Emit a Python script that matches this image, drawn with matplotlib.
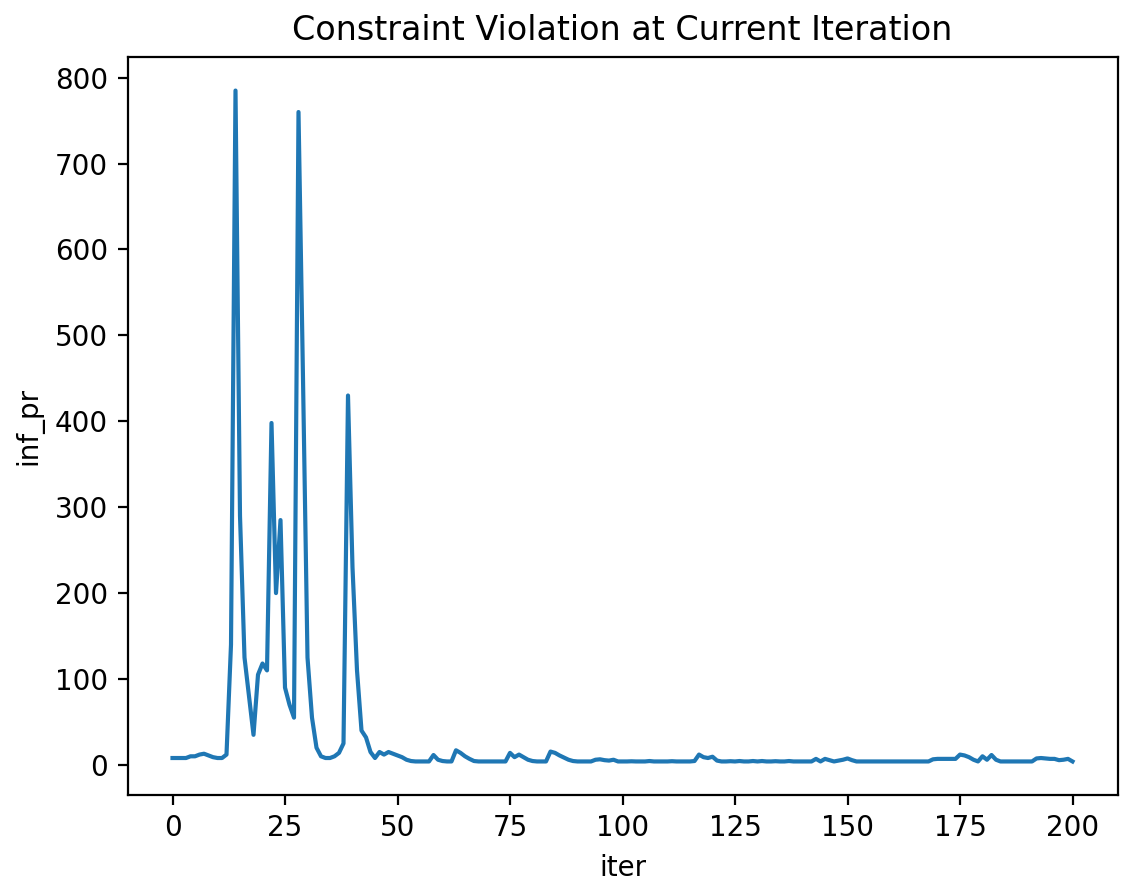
import matplotlib
matplotlib.use("Agg")
import matplotlib.pyplot as plt

# inf_pr per iteration
head = [8, 8, 8, 8, 10, 10, 12, 13, 11, 9, 8, 8, 12,
        140, 785, 290, 125, 80, 35, 105, 118, 110, 398, 200, 285, 90, 70, 55,
        760, 450, 125, 55, 20, 10, 8, 8, 10, 14, 25, 430, 230, 110, 40, 32, 15, 8,
        15, 12, 15, 13, 11, 9, 6, 4.5, 4, 4, 4, 4]
mid = [11.5, 6, 4.5, 4, 4, 17, 14, 10, 7, 4.5, 4, 4, 4, 4, 4, 4, 4,
       14, 9, 12, 9, 6, 4.5, 4, 4, 4, 15.5, 14, 11, 8.5, 6, 4.5, 4, 4, 4, 4,
       6, 6.5, 5.5, 5, 6, 4,
       4, 4, 4.2, 4, 4, 4, 4.5, 4, 4, 4, 4, 4.3, 4, 4, 4, 4, 4.5,
       12, 9, 8, 9.5, 5]
tail = [4, 4, 4.3, 4, 4.5, 4, 4, 4.5, 4, 4.5, 4, 4, 4.3, 4, 4, 4.5, 4, 4, 4, 4, 4,
        7, 4, 7, 5.5, 4, 5, 6, 7.5, 5.5, 4,
        4, 4, 4, 4, 4, 4, 4, 4, 4, 4, 4, 4, 4, 4, 4, 4,
        6.5, 7, 7, 7, 7, 7, 12, 11, 9, 6, 4, 10, 6, 11.5, 6, 4,
        4, 4, 4, 4, 4, 4, 4, 7.5, 8, 7.5, 7, 7, 5.5, 6, 7, 4]
inf_pr = head + mid + tail
iters = list(range(len(inf_pr)))

fig = plt.figure(figsize=(11.32 / 2, 8.92 / 2), dpi=200)
ax = fig.add_axes([127.5 / 1132, 97 / 892, 990 / 1132, 738 / 892])
ax.plot(iters, inf_pr)
ax.set_title("Constraint Violation at Current Iteration")
ax.set_xlabel("iter")
ax.set_ylabel("inf_pr")

fig.savefig("out.png", dpi=200)
print(len(inf_pr))
